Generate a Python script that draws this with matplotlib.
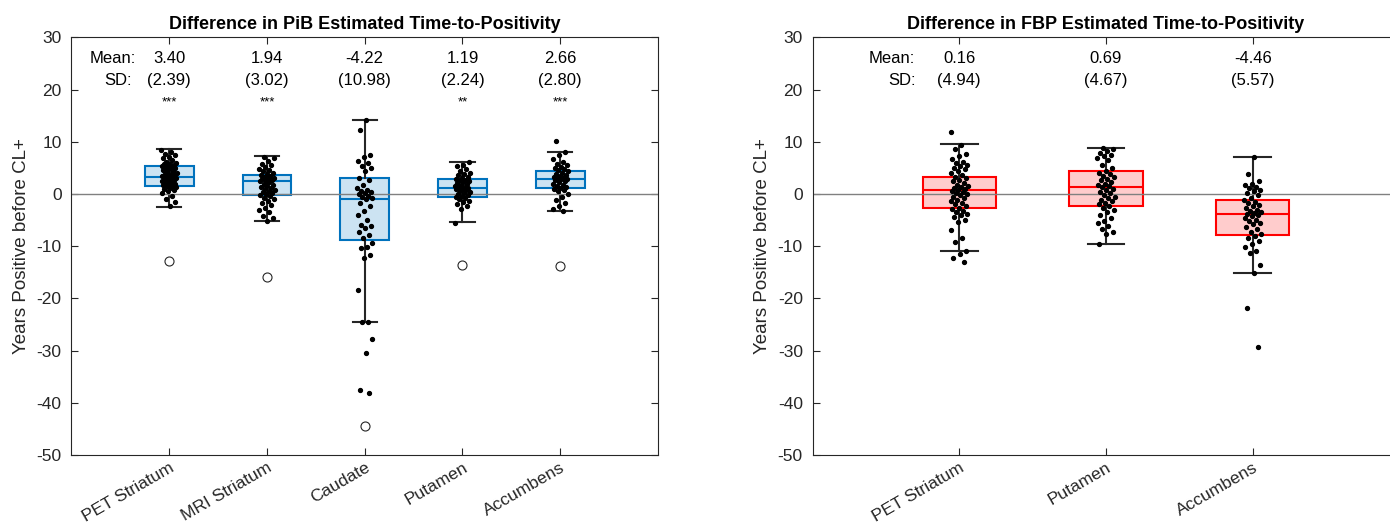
import matplotlib
matplotlib.use('Agg')
import matplotlib.pyplot as plt
import numpy as np

plt.rcParams['font.family'] = ['Liberation Sans', 'DejaVu Sans']
plt.rcParams['axes.unicode_minus'] = False

# PiB panel
pib_labels = ['PET Striatum', 'MRI Striatum', 'Caudate', 'Putamen', 'Accumbens']
pib_mean = [3.40, 1.94, -4.22, 1.19, 2.66]
pib_sd = [2.39, 3.02, 10.98, 2.24, 2.80]
pib_stars = ['***', '***', '', '**', '***']
pib_q1 = [1.54, -0.2, -8.85, -0.5, 1.08]
pib_med = [3.27, 2.5, -0.96, 1.08, 2.94]
pib_q3 = [5.3, 3.7, 3.0, 2.8, 4.35]
pib_lo = [-2.44, -5.2, -24.6, -5.46, -3.27]
pib_hi = [8.65, 7.2, 14.15, 6.15, 8.13]
pib_out = [[-12.9], [-15.9], [-44.5], [-13.6], [-13.8]]

pib_pet = [8.5, 8.0, 7.6, 7.4, 7.0, 6.8, 6.5, 6.2, 6.0, 5.8, 5.7, 5.5, 5.4, 5.3, 5.2,
           5.0, 4.9, 4.7, 4.6, 4.4, 4.2, 4.1, 3.9, 3.8, 3.6, 3.5, 3.4, 3.3, 3.2, 3.1,
           3.0, 2.9, 2.7, 2.6, 2.4, 2.3, 2.1, 2.0, 1.9, 1.7, 1.6, 1.5, 1.4, 1.2, 1.0,
           0.8, 0.5, 0.2, -0.3, -0.9, -1.6, -2.4]
pib_mri = [7.1, 6.8, 6.3, 5.8, 5.5, 5.1, 4.8, 4.5, 4.3, 4.0, 3.8, 3.6, 3.5, 3.3, 3.1,
           3.0, 2.8, 2.7, 2.5, 2.4, 2.2, 2.0, 1.8, 1.6, 1.4, 1.2, 1.0, 0.8, 0.6, 0.4,
           0.2, 0.0, -0.2, -0.4, -0.7, -1.0, -1.4, -1.8, -2.2, -2.6, -3.0, -3.5, -4.3,
           -4.6, -5.2]
pib_caud = [14.1, 12.2, 7.5, 7.1, 6.3, 6.0, 5.3, 5.0, 4.4, 3.1, 2.7, 1.8, 1.1, 0.8,
            0.5, 0.3, 0.2, -0.1, -0.3, -0.5, -0.8, -1.0, -1.7, -2.4, -3.3, -4.0, -4.9,
            -5.9, -6.2, -6.5, -7.2, -7.8, -8.5, -9.4, -10.1, -10.4, -11.7, -12.3,
            -18.4, -24.6, -24.6, -27.7, -30.5, -37.5, -38.2]
pib_put = [6.1, 5.6, 5.3, 4.8, 4.4, 4.1, 3.8, 3.6, 3.3, 3.1, 2.9, 2.7, 2.6, 2.5, 2.3,
           2.1, 1.9, 1.7, 1.5, 1.4, 1.3, 1.1, 1.0, 0.9, 0.7, 0.5, 0.3, 0.2, 0.0, -0.2,
           -0.4, -0.6, -0.8, -1.0, -1.3, -1.6, -2.0, -2.4, -2.9, -5.5]
pib_acc = [10.1, 8.0, 7.4, 6.6, 6.2, 5.8, 5.5, 5.2, 4.9, 4.7, 4.5, 4.3, 4.1, 3.9, 3.7,
           3.5, 3.3, 3.1, 3.0, 2.9, 2.8, 2.6, 2.4, 2.2, 2.0, 1.8, 1.6, 1.4, 1.2, 1.0,
           0.8, 0.5, 0.0, -0.5, -1.2, -1.8, -2.4, -2.9, -3.3]
pib_points = [pib_pet, pib_mri, pib_caud, pib_put, pib_acc]

# FBP panel
fbp_labels = ['PET Striatum', 'Putamen', 'Accumbens']
fbp_mean = [0.16, 0.69, -4.46]
fbp_sd = [4.94, 4.67, 5.57]
fbp_q1 = [-2.63, -2.25, -7.83]
fbp_med = [0.77, 1.4, -3.79]
fbp_q3 = [3.2, 4.48, -1.23]
fbp_lo = [-10.9, -9.5, -15.2]
fbp_hi = [9.54, 8.77, 7.12]

fbp_pet = [11.9, 9.4, 8.7, 7.6, 7.3, 6.6, 6.2, 5.9, 5.6, 5.3, 5.0, 4.7, 4.4, 4.0, 3.6,
           3.3, 3.0, 2.7, 2.4, 2.1, 1.8, 1.6, 1.4, 1.2, 1.0, 0.8, 0.6, 0.4, 0.2, 0.0,
           -0.2, -0.5, -0.8, -1.1, -1.4, -1.7, -2.0, -2.3, -2.6, -2.9, -3.2, -3.5, -3.8,
           -4.1, -4.5, -5.0, -5.4, -6.9, -8.5, -9.2, -10.9, -11.5, -12.3, -13.1]
fbp_put = [8.8, 8.6, 8.3, 7.9, 7.5, 7.2, 6.8, 6.5, 5.6, 5.0, 4.4, 4.1, 3.8, 3.5, 3.2,
           2.9, 2.6, 2.3, 2.0, 1.7, 1.5, 1.3, 1.0, 0.7, 0.4, 0.1, -0.2, -0.5, -0.8, -1.1,
           -1.4, -1.7, -2.0, -2.3, -2.7, -3.0, -3.5, -4.0, -4.6, -5.1, -5.6, -6.2, -6.8,
           -7.3, -7.6, -9.5]
fbp_acc = [7.0, 3.8, 2.4, 2.0, 1.7, 1.4, 1.1, 0.8, 0.5, 0.2, -0.2, -0.7, -1.2, -1.5,
           -1.8, -2.1, -2.4, -2.7, -3.0, -3.3, -3.5, -3.7, -3.9, -4.1, -4.3, -4.6, -4.9,
           -5.2, -5.5, -5.8, -6.3, -6.8, -7.2, -7.6, -8.0, -8.5, -9.0, -9.6, -10.2,
           -10.9, -11.4, -13.6, -15.2, -21.9, -29.4]
fbp_points = [fbp_pet, fbp_put, fbp_acc]

blue = '#0072BD'
red = '#FF0000'
dark = '#262626'
fs = 12


def panel(ax, labels, q1, med, q3, lo, hi, outs, points, means, sds, stars,
          edge, face, title, jw, mean_x, sd_x):
    pos = np.arange(1, len(labels) + 1)
    stats = []
    for i in range(len(labels)):
        stats.append({'q1': q1[i], 'med': med[i], 'q3': q3[i],
                      'whislo': lo[i], 'whishi': hi[i], 'fliers': outs[i]})
    ax.bxp(stats, positions=pos, widths=0.5, capwidths=0.25, patch_artist=True,
           boxprops=dict(facecolor=face, edgecolor=edge, linewidth=1.5),
           medianprops=dict(color=edge, linewidth=1.5),
           whiskerprops=dict(color=dark, linewidth=1.5),
           capprops=dict(color=dark, linewidth=1.5),
           flierprops=dict(marker='o', markerfacecolor='none', markeredgecolor=dark,
                           markersize=6.5, markeredgewidth=0.8),
           zorder=2)
    ax.axhline(0, color='#808080', lw=1, zorder=2.5)
    for i, pts in enumerate(points):
        k = np.arange(len(pts))
        jit = ((k * 0.618034 + 0.3 * i) % 1 - 0.5) * jw
        ax.plot(pos[i] + jit, pts, 'o', color='black', markersize=2.8, zorder=3)

    for i in range(len(labels)):
        ax.text(pos[i], 26, '%.2f' % means[i], ha='center', va='center', fontsize=fs)
        ax.text(pos[i], 21.8, '(%.2f)' % sds[i], ha='center', va='center', fontsize=fs)
        if stars:
            ax.text(pos[i], 17.6, stars[i], ha='center', va='center', fontsize=9.5)
    ax.text(mean_x, 26, 'Mean:', ha='right', va='center', fontsize=fs)
    ax.text(sd_x, 21.8, 'SD:', ha='right', va='center', fontsize=fs)

    ax.set_xlim(0, len(labels) + 1)
    ax.set_ylim(-50, 30)
    ax.set_yticks(np.arange(-50, 31, 10))
    ax.set_xticks(pos)
    ax.set_xticklabels(labels, rotation=30, ha='right', va='top',
                       rotation_mode='anchor', fontsize=12.5)
    ax.tick_params(axis='y', labelsize=12.5, pad=7)
    ax.tick_params(direction='in', top=True, right=True, length=5, color=dark,
                   labelcolor=dark, width=0.8)
    for s in ax.spines.values():
        s.set_color(dark)
        s.set_linewidth(0.8)
    ax.set_ylabel('Years Positive before CL+', fontsize=13.5, color=dark, labelpad=5)
    ax.set_title(title, fontsize=13, fontweight='bold', pad=6)


fig = plt.figure(figsize=(13.9, 5.27), dpi=100)
ax1 = fig.add_axes([0.0514, 0.1366, 0.422, 0.7926])
ax2 = fig.add_axes([0.5846, 0.1366, 0.4222, 0.7926])

panel(ax1, pib_labels, pib_q1, pib_med, pib_q3, pib_lo, pib_hi, pib_out, pib_points,
      pib_mean, pib_sd, pib_stars, blue, '#CCE3F2',
      'Difference in PiB Estimated Time-to-Positivity', 0.16, 0.66, 0.62)
panel(ax2, fbp_labels, fbp_q1, fbp_med, fbp_q3, fbp_lo, fbp_hi, [[], [], []],
      fbp_points, fbp_mean, fbp_sd, None, red, '#FFCCCC',
      'Difference in FBP Estimated Time-to-Positivity', 0.12, 0.70, 0.70)

fig.savefig('out.png', dpi=100)
